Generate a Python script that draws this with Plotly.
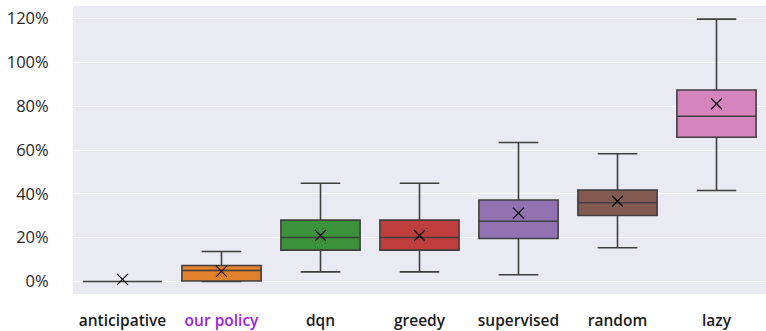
import plotly.graph_objects as go

# Per-method summary statistics (fractions of baseline)
methods = ["anticipative", "our policy", "dqn", "greedy", "supervised", "random", "lazy"]
lower_whisker = [0.000, 0.000, 0.044, 0.044, 0.031, 0.154, 0.415]
q1 = [0.000, 0.002, 0.143, 0.143, 0.196, 0.301, 0.658]
median = [0.000, 0.050, 0.201, 0.201, 0.275, 0.359, 0.754]
q3 = [0.000, 0.073, 0.280, 0.280, 0.372, 0.417, 0.874]
upper_whisker = [0.000, 0.137, 0.448, 0.448, 0.634, 0.583, 1.197]
mean = [0.010, 0.046, 0.210, 0.210, 0.312, 0.366, 0.811]

colors = ["#3274a1", "#e1812c", "#3a923a", "#c03d3e", "#9372b2", "#845b53", "#d684bd"]
label_colors = ["#1a1a1a", "#9b1fd6", "#1a1a1a", "#1a1a1a", "#1a1a1a", "#1a1a1a", "#1a1a1a"]

fig = go.Figure()
for i, m in enumerate(methods):
    fig.add_trace(go.Box(
        x=[m], q1=[q1[i]], median=[median[i]], q3=[q3[i]],
        lowerfence=[lower_whisker[i]], upperfence=[upper_whisker[i]],
        fillcolor=colors[i], line=dict(color="#3f3f3f", width=1.6),
        width=0.8, whiskerwidth=0.5, boxpoints=False, showlegend=False,
        hoverinfo="skip",
    ))

fig.add_trace(go.Scatter(
    x=methods, y=mean, mode="markers", showlegend=False,
    marker=dict(symbol="x-thin", size=11, color="black",
                line=dict(color="black", width=1.2)),
))

ticktext = [f"<span style='color:{c}'>{m}</span>" for m, c in zip(methods, label_colors)]

fig.update_layout(
    width=766, height=331,
    margin=dict(l=73, r=0, t=6, b=37),
    paper_bgcolor="white", plot_bgcolor="#eaeaf2",
    font=dict(family="Open Sans", color="#262626"),
    xaxis=dict(
        type="category", tickvals=methods, ticktext=ticktext, automargin=False,
        showgrid=False, zeroline=False, ticks="outside", ticklen=12,
        tickcolor="rgba(0,0,0,0)", range=[-0.5, 6.5],
        tickfont=dict(size=15.5, family="Open Sans", weight=600),
    ),
    yaxis=dict(
        range=[-0.057, 1.257], tickvals=[0, 0.2, 0.4, 0.6, 0.8, 1.0, 1.2],
        automargin=False,
        tickformat=".0%", gridcolor="white", gridwidth=1.2, zeroline=False,
        ticks="outside", ticklen=20, tickcolor="rgba(0,0,0,0)",
        tickfont=dict(size=16.5, family="Open Sans"),
    ),
)

fig.write_html("out.html")
